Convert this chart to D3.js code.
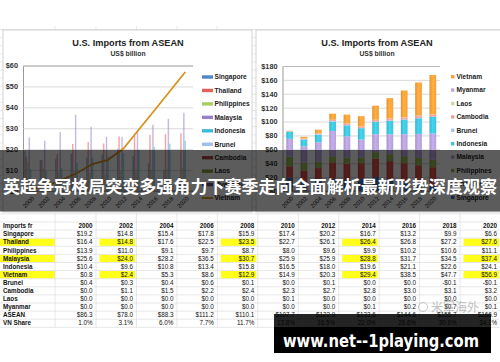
<!DOCTYPE html>
<html>
<head>
<meta charset="utf-8">
<script src="https://cdn.jsdelivr.net/npm/d3@7"></script>
<style>
  html, body { margin: 0; padding: 0; background: #fff; overflow: hidden; }
  svg { display: block; }
</style>
</head>
<body>
<div id="chart"></div>
<script>
// ---- data ----
const years = ['2000', '2002', '2004', '2006', '2008', '2010', '2012', '2014', '2016', '2018', '2020'];
const countries = ['Singapore', 'Thailand', 'Philippines', 'Malaysia', 'Indonesia', 'Brunei', 'Cambodia', 'Laos', 'Myanmar', 'Vietnam'];

const singapore   = [19.2, 14.8, 15.4, 17.8, 15.9, 17.4, 20.2, 16.7, 13.2, 9.9, 6.6];
const thailand    = [16.4, 14.8, 17.6, 22.5, 23.5, 22.7, 26.1, 26.4, 26.8, 27.2, 27.6];
const philippines = [13.9, 11.0, 9.1, 9.7, 8.7, 8.0, 9.6, 9.9, 10.2, 10.6, 11.1];
const malaysia    = [25.6, 24.0, 28.2, 36.5, 30.7, 25.9, 25.9, 28.8, 31.7, 34.5, 37.4];
const indonesia   = [10.4, 9.6, 10.8, 13.4, 15.8, 16.5, 18.0, 19.6, 21.1, 22.6, 24.1];
const vietnam     = [0.8, 2.4, 5.3, 8.6, 12.9, 14.9, 20.3, 29.4, 38.5, 47.7, 56.9];
const brunei      = [0.4, 0.3, 0.4, 0.6, 0.1, 0.0, 0.1, 0.0, 0.0, -0.1, -0.1];
const cambodia    = [0.0, 1.1, 1.5, 2.2, 2.4, 2.3, 2.7, 2.8, 3.0, 3.1, 3.2];
const laos        = [0.0, 0.0, 0.0, 0.0, 0.0, 0.1, 0.0, 0.0, 0.0, 0.0, 0.0];
const myanmar     = [0.0, 0.0, 0.0, 0.0, 0.0, 0.0, 0.0, 0.1, 0.2, 0.7, 0.1];
const asean       = [86.3, 78.0, 88.3, 111.2, 110.1, 107.7, 122.9, 133.6, 144.6, 155.7, 166.9];
const vnShare     = [1.0, 3.1, 6.0, 7.7, 11.7, 13.8, 16.5, 22.0, 26.6, 30.6, 34.1];

const leftTicks = [0, 10, 20, 30, 40, 50, 60];
const rightTicks = [0, 20, 40, 60, 80, 100, 120, 140, 160, 180];

const series = {
  Singapore: singapore, Thailand: thailand, Philippines: philippines, Malaysia: malaysia,
  Indonesia: indonesia, Brunei: brunei, Cambodia: cambodia, Laos: laos, Myanmar: myanmar, Vietnam: vietnam
};

const tableRows = [
  ['Singapore', singapore], ['Thailand', thailand], ['Philippines', philippines],
  ['Malaysia', malaysia], ['Indonesia', indonesia], ['Vietnam', vietnam],
  ['Brunei', brunei], ['Cambodia', cambodia], ['Laos', laos], ['Myanmar', myanmar],
  ['ASEAN', asean], ['VN Share', vnShare]
];
const highlightRows = ['Thailand', 'Malaysia', 'Vietnam'];
const highlightCols = ['2002', '2008', '2014', '2020'];

// ---- colours ----
const leftColors = {
  Singapore: '#4f86cc', Thailand: '#e2605a', Philippines: '#a6cc62', Malaysia: '#9a80cc',
  Indonesia: '#3cbcd6', Brunei: '#9fc0ea', Cambodia: '#b04a46', Laos: '#84a040',
  Myanmar: '#6a5290', Vietnam: '#d6931e'
};
const rightColors = {
  Singapore: '#3f70b4', Thailand: '#d24c48', Philippines: '#92b24e', Malaysia: '#b5a0da',
  Indonesia: '#3ec3dc', Brunei: '#a6c3e8', Cambodia: '#e8a2a0', Laos: '#c6dca0',
  Myanmar: '#b9aad8', Vietnam: '#f8a03a'
};

const W = 500, H = 362;
const svg = d3.select('#chart').append('svg')
  .attr('width', W).attr('height', H)
  .style('font-family', '"Liberation Sans", Arial, sans-serif');

svg.append('rect').attr('width', W).attr('height', H).attr('fill', '#fff');

// spreadsheet grid peeking around the charts
const sheet = svg.append('g').attr('stroke', '#dcdcdc').attr('stroke-width', 0.6);
sheet.append('line').attr('x1', 0).attr('x2', W).attr('y1', 29.5).attr('y2', 29.5);
d3.range(29.5, 214, 8.1).forEach(y => {
  sheet.append('line').attr('x1', 0).attr('x2', 3).attr('y1', y).attr('y2', y);
  sheet.append('line').attr('x1', 251).attr('x2', 256).attr('y1', y).attr('y2', y);
});
[55, 96, 136.5, 177, 217].forEach(x => {
  sheet.append('line').attr('x1', x).attr('x2', x).attr('y1', 26).attr('y2', 30);
});

const defs = svg.append('defs');
countries.forEach(c => {
  const g = defs.append('linearGradient').attr('id', 'g-' + c)
    .attr('x1', '0%').attr('x2', '100%').attr('y1', '0%').attr('y2', '0%');
  const base = d3.color(rightColors[c]);
  g.append('stop').attr('offset', '0%').attr('stop-color', base.darker(0.25));
  g.append('stop').attr('offset', '45%').attr('stop-color', base.brighter(0.25));
  g.append('stop').attr('offset', '100%').attr('stop-color', base);
});

function chartFrame(x0, x1, cx) {
  svg.append('rect').attr('x', x0).attr('y', 30).attr('width', x1 - x0).attr('height', 182)
    .attr('fill', '#fff').attr('stroke', '#c8c8c8').attr('stroke-width', 0.8);
  svg.append('text').attr('x', cx).attr('y', 46).attr('text-anchor', 'middle')
    .attr('font-size', 9.2).attr('font-weight', 'bold').attr('fill', '#222')
    .text('U.S. Imports from ASEAN');
  svg.append('text').attr('x', cx).attr('y', 55.5).attr('text-anchor', 'middle')
    .attr('font-size', 6.8).attr('font-weight', 'bold').attr('fill', '#333')
    .text('US$ billion');
}

// ---- left chart: clustered bars + Vietnam line ----
chartFrame(3, 252, 128);

const xL = d3.scaleBand().domain(years).range([23, 193]);
const barSeries = countries.filter(c => c !== 'Vietnam');
const xSub = d3.scaleBand().domain(barSeries).range([1.2, xL.bandwidth() - 1.2]);
const yL = d3.scaleLinear().domain([0, 60]).range([191, 65.5]);

const left = svg.append('g');
left.append('g').attr('transform', 'translate(23,0)')
  .call(d3.axisLeft(yL).tickValues(leftTicks).tickSize(-170).tickFormat(d => '$' + d))
  .call(g => g.select('.domain').attr('stroke', '#999'))
  .call(g => g.selectAll('.tick line').attr('stroke', '#c8c8c8').attr('stroke-width', 0.7))
  .call(g => g.selectAll('.tick text').attr('x', -5).attr('font-size', 7.3)
    .attr('font-weight', 'bold').attr('fill', '#333').attr('font-family', '"Liberation Sans", Arial, sans-serif'));

left.append('g').selectAll('g').data(barSeries).join('g')
  .attr('fill', d => leftColors[d]).attr('fill-opacity', 0.55)
  .selectAll('rect').data(c => series[c].map((v, i) => ({ c, v, year: years[i] })))
  .join('rect')
  .attr('x', d => xL(d.year) + xSub(d.c))
  .attr('width', xSub.bandwidth())
  .attr('y', d => yL(Math.max(0, d.v)))
  .attr('height', d => Math.abs(yL(d.v) - yL(0)));

left.append('line').attr('x1', 23).attr('x2', 193).attr('y1', yL(0)).attr('y2', yL(0))
  .attr('stroke', '#999').attr('stroke-width', 0.7);

left.append('path').datum(vietnam)
  .attr('fill', 'none').attr('stroke', leftColors.Vietnam).attr('stroke-width', 1.8)
  .attr('d', d3.line().x((d, i) => xL(years[i]) + xL.bandwidth() / 2).y(d => yL(d)));

left.append('g').selectAll('text').data(years).join('text')
  .attr('transform', d => `translate(${xL(d) + xL.bandwidth() / 2 + 1},${196}) rotate(-45)`)
  .attr('text-anchor', 'end').attr('dy', '0.7em').attr('font-size', 6).attr('fill', '#222')
  .text(d => d);

const legL = left.append('g').selectAll('g').data(countries).join('g')
  .attr('transform', (d, i) => `translate(202,${77 + i * 13.45})`);
legL.append('rect')
  .attr('x', 0).attr('y', d => d === 'Vietnam' ? -0.9 : -1.7)
  .attr('width', 11).attr('height', d => d === 'Vietnam' ? 1.8 : 3.4)
  .attr('fill', d => leftColors[d]);
legL.append('text').attr('x', 12.5).attr('dy', '0.35em')
  .attr('font-size', 6.6).attr('font-weight', 'bold').attr('fill', '#222').text(d => d);

// ---- right chart: stacked bars ----
chartFrame(256, 501, 377);

const xR = d3.scaleBand().domain(years).range([282.5, 440]).paddingInner(0.53).paddingOuter(0.265);
const yR = d3.scaleLinear().domain([0, 180]).range([191, 66]);

const right = svg.append('g');
right.append('g').attr('transform', 'translate(282.5,0)')
  .call(d3.axisLeft(yR).tickValues(rightTicks).tickSize(-157.5).tickFormat(d => '$' + d))
  .call(g => g.select('.domain').attr('stroke', '#999'))
  .call(g => g.selectAll('.tick line').attr('stroke', '#c8c8c8').attr('stroke-width', 0.7))
  .call(g => g.selectAll('.tick text').attr('x', -5).attr('font-size', 7.3)
    .attr('font-weight', 'bold').attr('fill', '#333').attr('font-family', '"Liberation Sans", Arial, sans-serif'));

const stackRows = years.map((y, i) => {
  const row = { year: y };
  countries.forEach(c => { row[c] = series[c][i]; });
  return row;
});
const stacked = d3.stack().keys(countries).offset(d3.stackOffsetDiverging)(stackRows);

right.append('g').selectAll('g').data(stacked).join('g')
  .attr('fill', d => `url(#g-${d.key})`)
  .selectAll('rect').data(d => d).join('rect')
  .attr('x', d => xR(d.data.year))
  .attr('width', xR.bandwidth())
  .attr('y', d => yR(Math.max(d[0], d[1])))
  .attr('height', d => Math.abs(yR(d[0]) - yR(d[1])));

right.append('line').attr('x1', 282.5).attr('x2', 440).attr('y1', yR(0)).attr('y2', yR(0))
  .attr('stroke', '#999').attr('stroke-width', 0.7);

right.append('g').selectAll('text').data(years).join('text')
  .attr('transform', d => `translate(${xR(d) + xR.bandwidth() / 2 + 1},${196}) rotate(-45)`)
  .attr('text-anchor', 'end').attr('dy', '0.7em').attr('font-size', 6).attr('fill', '#222')
  .text(d => d);

const legR = right.append('g').selectAll('g').data(countries.slice().reverse()).join('g')
  .attr('transform', (d, i) => `translate(451,${76.7 + i * 13.4})`);
legR.append('rect').attr('x', 0).attr('y', -1.7).attr('width', 3.4).attr('height', 3.4)
  .attr('fill', d => rightColors[d]);
legR.append('text').attr('x', 5.5).attr('dy', '0.35em')
  .attr('font-size', 6.6).attr('font-weight', 'bold').attr('fill', '#222').text(d => d);

// ---- table under the charts ----
const rowH = 8.1, top0 = 222;
const colEdge = i => 96 + i * 40.45;
const table = svg.append('g').attr('font-size', 6.3).attr('fill', '#111');
const allRows = [['Imports fr', null]].concat(tableRows);

// yellow highlights
tableRows.forEach(([name], r) => {
  if (!highlightRows.includes(name)) return;
  const y = top0 + (r + 1) * rowH;
  table.append('rect').attr('x', 0).attr('y', y + 0.4).attr('width', 55).attr('height', rowH - 0.8).attr('fill', '#ffff1a');
  highlightCols.forEach(yr => {
    const i = years.indexOf(yr);
    table.append('rect').attr('x', colEdge(i) - 37).attr('y', y + 0.4)
      .attr('width', 35.5).attr('height', rowH - 0.8).attr('fill', '#ffff1a');
  });
});

// grid
const grid = table.append('g').attr('stroke', '#d6d6d6').attr('stroke-width', 0.6);
d3.range(0, allRows.length + 2).forEach(r => {
  const y = 213.9 + r * rowH;
  grid.append('line').attr('x1', 0).attr('x2', W).attr('y1', y).attr('y2', y);
});
[55].concat(years.map((d, i) => colEdge(i))).forEach(x => {
  grid.append('line').attr('x1', x).attr('x2', x).attr('y1', 213).attr('y2', 213.9 + (allRows.length + 1) * rowH);
});

allRows.forEach(([name, vals], r) => {
  const y = top0 + r * rowH + rowH / 2;
  table.append('text').attr('x', 3).attr('y', y).attr('dy', '0.35em')
    .attr('font-weight', 'bold').text(name);
  const cells = vals ? vals : years;
  table.append('g').selectAll('text').data(cells).join('text')
    .attr('x', (d, i) => colEdge(i) - 3.5).attr('y', y).attr('dy', '0.35em')
    .attr('text-anchor', 'end')
    .attr('font-weight', vals ? null : 'bold')
    .text(d => {
      if (!vals) return d;
      if (name === 'VN Share') return d.toFixed(1) + '%';
      return (d < 0 ? '-' : '') + '$' + Math.abs(d).toFixed(1);
    });
});

// ---- dark caption band ----
svg.append('rect').attr('x', 0).attr('y', 150).attr('width', W).attr('height', 61.5)
  .attr('fill', '#000').attr('fill-opacity', 0.64);
svg.append('text').attr('x', 3).attr('y', 193)
  .attr('textLength', 494).attr('lengthAdjust', 'spacingAndGlyphs')
  .attr('font-family', '"Noto Sans CJK SC", sans-serif').attr('font-weight', 'bold')
  .attr('font-size', 17).attr('fill', '#fff')
  .text('英超争冠格局突变多强角力下赛季走向全面解析最新形势深度观察');

// ---- watermark ----
const wm = svg.append('g').attr('opacity', 0.45);
wm.append('circle').attr('cx', 423).attr('cy', 307).attr('r', 4.5)
  .attr('fill', 'none').attr('stroke', '#888').attr('stroke-width', 1);
wm.append('text').attr('x', 431).attr('y', 312)
  .attr('font-family', '"Noto Sans CJK SC", sans-serif').attr('font-size', 12).attr('fill', '#777')
  .text('米军海外');

// ---- bottom banner ----
svg.append('rect').attr('x', 274).attr('y', 314).attr('width', 217).attr('height', 39)
  .attr('fill', '#000').attr('fill-opacity', 0.86);
svg.append('rect').attr('x', 274).attr('y', 327).attr('width', 217).attr('height', 26)
  .attr('fill', '#000');
svg.append('text').attr('x', 283).attr('y', 346.5)
  .attr('textLength', 196).attr('lengthAdjust', 'spacingAndGlyphs')
  .attr('font-family', '"DejaVu Sans", sans-serif').attr('font-weight', 'bold')
  .attr('font-size', 17).attr('fill', '#fff')
  .text('www.net--1playing.com');
</script>
</body>
</html>
